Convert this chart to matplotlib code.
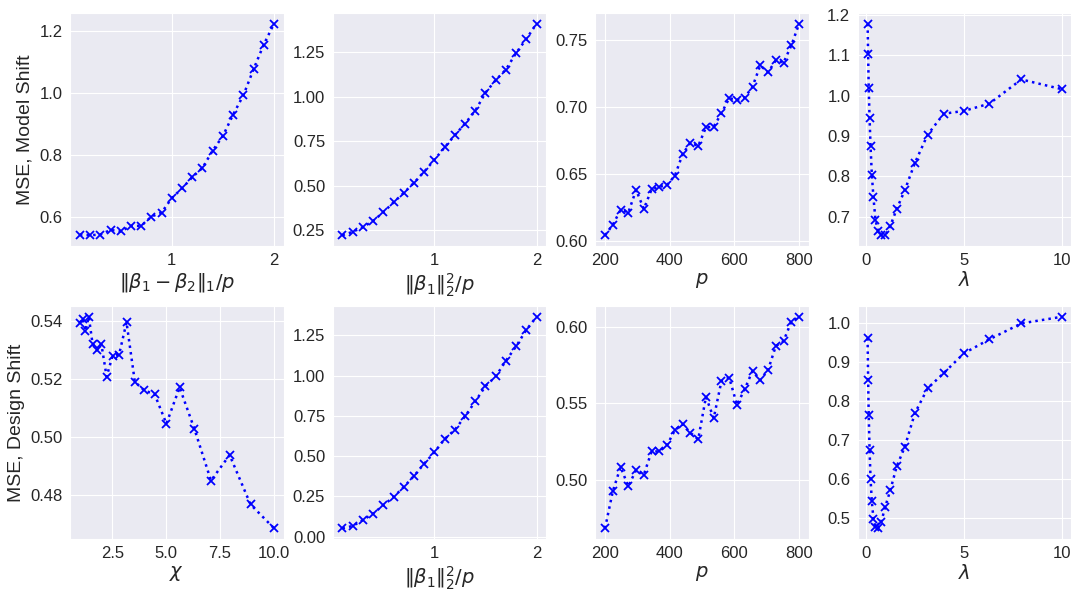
import matplotlib
matplotlib.use("Agg")
import matplotlib.pyplot as plt
import seaborn as sns

sns.set_style("darkgrid")
plt.rcParams['font.family'] = ['Liberation Sans', 'DejaVu Sans']
plt.rcParams['mathtext.fontset'] = 'dejavusans'

# ---- data ----
shift_x = [0.1, 0.2, 0.3, 0.4, 0.5, 0.6, 0.7, 0.8, 0.9, 1.0,
           1.1, 1.2, 1.3, 1.4, 1.5, 1.6, 1.7, 1.8, 1.9, 2.0]
p_x = [200, 224, 248, 272, 296, 320, 344, 368, 392, 416, 440, 464, 488,
       512, 536, 560, 584, 608, 632, 656, 680, 704, 728, 752, 776, 800]
lam_x = [0.1, 0.126, 0.158, 0.2, 0.251, 0.316, 0.398, 0.501, 0.631, 0.794,
         1.0, 1.259, 1.585, 1.995, 2.512, 3.162, 3.981, 5.012, 6.310, 7.943, 10.0]
chi_x = [1.0, 1.122, 1.259, 1.413, 1.585, 1.778, 1.995, 2.239, 2.512, 2.818,
         3.162, 3.548, 3.981, 4.467, 5.012, 5.623, 6.310, 7.079, 7.943, 8.913, 10.0]

model_l1 = [0.544, 0.542, 0.544, 0.559, 0.554, 0.572, 0.572, 0.602, 0.615, 0.662,
            0.693, 0.729, 0.759, 0.815, 0.862, 0.931, 0.993, 1.077, 1.157, 1.224]
model_b2 = [0.222, 0.241, 0.267, 0.302, 0.351, 0.406, 0.459, 0.516, 0.578, 0.645,
            0.714, 0.783, 0.848, 0.920, 1.021, 1.092, 1.151, 1.244, 1.323, 1.408]
model_p = [0.6047, 0.6124, 0.6236, 0.6216, 0.6384, 0.6243, 0.6389, 0.6407, 0.6422,
           0.6491, 0.6652, 0.6737, 0.6712, 0.6851, 0.6856, 0.6957, 0.7069, 0.7056,
           0.7074, 0.7155, 0.7314, 0.7262, 0.7351, 0.7334, 0.7463, 0.7624]
model_lam = [1.178, 1.103, 1.018, 0.945, 0.874, 0.804, 0.748, 0.692, 0.665, 0.654,
             0.654, 0.677, 0.719, 0.765, 0.833, 0.903, 0.955, 0.962, 0.980, 1.040, 1.016]

design_chi = [0.5393, 0.5408, 0.5366, 0.5414, 0.5322, 0.5299, 0.5320, 0.5208, 0.5279,
              0.5284, 0.5395, 0.5190, 0.5161, 0.5147, 0.5046, 0.5171, 0.5028, 0.4850,
              0.4938, 0.4768, 0.4686]
design_b2 = [0.052, 0.066, 0.103, 0.143, 0.195, 0.246, 0.308, 0.377, 0.453, 0.524,
             0.606, 0.664, 0.747, 0.840, 0.935, 0.995, 1.093, 1.182, 1.285, 1.366]
design_p = [0.4683, 0.4924, 0.5083, 0.4957, 0.5063, 0.5033, 0.5185, 0.5185, 0.5228,
            0.5324, 0.5363, 0.5307, 0.5263, 0.5541, 0.5402, 0.5646, 0.5667, 0.5489,
            0.5593, 0.5711, 0.5650, 0.5717, 0.5874, 0.5907, 0.6033, 0.6065]
design_lam = [0.962, 0.855, 0.765, 0.675, 0.600, 0.542, 0.498, 0.476, 0.473, 0.489,
              0.528, 0.571, 0.632, 0.682, 0.769, 0.833, 0.872, 0.923, 0.959, 1.000, 1.017]

xlabels_top = [r'$\|\beta_1-\beta_2\|_1/p$', r'$\|\beta_1\|_2^2/p$', r'$p$', r'$\lambda$']
xlabels_bot = [r'$\chi$', r'$\|\beta_1\|_2^2/p$', r'$p$', r'$\lambda$']
ylabels = ['MSE, Model Shift', 'MSE, Design Shift']

top = [(shift_x, model_l1), (shift_x, model_b2), (p_x, model_p), (lam_x, model_lam)]
bot = [(chi_x, design_chi), (shift_x, design_b2), (p_x, design_p), (lam_x, design_lam)]

fig, axes = plt.subplots(2, 4, figsize=(10.8, 6.0), dpi=100)
fig.subplots_adjust(left=0.065, right=0.992, top=0.978, bottom=0.102,
                    wspace=0.23, hspace=0.26)

for row, series, xlabels in [(0, top, xlabels_top), (1, bot, xlabels_bot)]:
    for col, (xs, ys) in enumerate(series):
        ax = axes[row, col]
        ax.plot(xs, ys, linestyle=':', color='blue', marker='x',
                markersize=6, markeredgewidth=1.3, linewidth=1.8)
        ax.set_xlabel(xlabels[col], fontsize=14, labelpad=2)
        ax.tick_params(labelsize=12, pad=2)
        if col == 0:
            ax.set_ylabel(ylabels[row], fontsize=14)
        if xs is shift_x:
            ax.set_xticks([1, 2])

fig.savefig('out.png', dpi=100)
